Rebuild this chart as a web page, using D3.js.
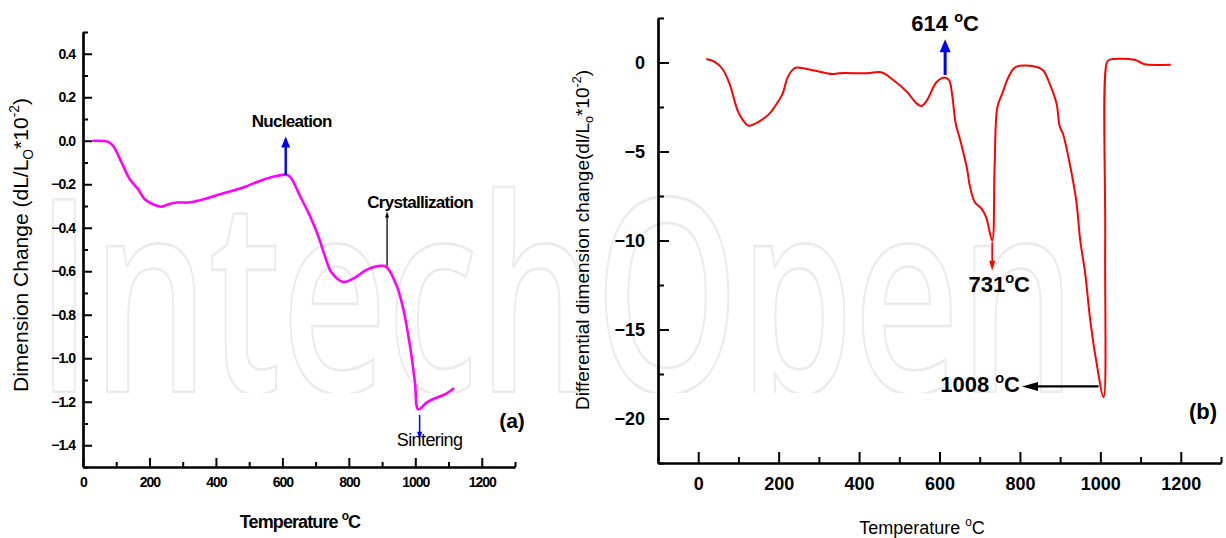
<!DOCTYPE html>
<html>
<head>
<meta charset="utf-8">
<script src="https://cdn.jsdelivr.net/npm/d3@7"></script>
<style>
  html, body { margin: 0; padding: 0; background: #fff; }
  svg { display: block; }
</style>
</head>
<body>
<svg id="chart" width="1226" height="538"></svg>
<script>
// (a) dilatometric curve: temperature (°C) vs dimension change (dL/Lo*10^-2)
const dilTemp   = [31, 76, 91, 116, 141, 166, 186, 211, 237, 257, 282, 317, 352, 412, 482, 532, 572, 610, 623, 653, 683, 708, 728, 748, 783, 813, 853, 893, 913, 944, 964, 984, 999, 1009, 1034, 1064, 1089, 1114];
const dilChange = [0.0, -0.005, -0.024, -0.10, -0.177, -0.223, -0.269, -0.292, -0.303, -0.292, -0.284, -0.284, -0.274, -0.246, -0.215, -0.185, -0.166, -0.156, -0.165, -0.254, -0.346, -0.438, -0.530, -0.606, -0.649, -0.634, -0.594, -0.575, -0.580, -0.667, -0.775, -0.943, -1.112, -1.235, -1.204, -1.181, -1.166, -1.140];

// (b) derivative curve: temperature (°C) vs differential dimension change
const difTemp   = [20, 40, 60, 78, 98, 110, 125, 140, 156, 176, 197, 210, 222, 235, 245, 288, 333, 350, 420, 455, 486, 519, 543, 555, 568, 593, 614, 624, 632, 640, 652, 668, 676, 688, 704, 716, 731, 737, 744, 756, 772, 790, 842, 858, 874, 891, 899, 907, 924, 940, 950, 962, 975, 990, 1008, 1012, 1016, 1022, 1085, 1100, 1110, 1175];
const difChange = [0.2, 0.05, -0.35, -1.2, -2.7, -3.2, -3.55, -3.45, -3.25, -2.9, -2.25, -1.75, -0.85, -0.4, -0.28, -0.45, -0.65, -0.6, -0.6, -0.55, -1.0, -1.65, -2.3, -2.45, -2.15, -1.1, -0.85, -1.0, -1.9, -3.4, -4.4, -5.9, -7.0, -7.85, -8.2, -8.7, -10.0, -5.9, -2.5, -1.75, -0.8, -0.25, -0.25, -0.45, -1.2, -2.3, -3.6, -4.0, -5.7, -7.75, -10.0, -11.8, -14.5, -16.8, -18.8, -10.0, 0.0, 0.15, 0.15, 0.0, -0.1, -0.12];

// tick values
const dilXTicks = [0, 200, 400, 600, 800, 1000, 1200];
const dilXMinor = [100, 300, 500, 700, 900, 1100, 1300];
const dilYTicks = [-1.4, -1.2, -1.0, -0.8, -0.6, -0.4, -0.2, 0.0, 0.2, 0.4];
const dilYMinor = [-1.5, -1.3, -1.1, -0.9, -0.7, -0.5, -0.3, -0.1, 0.1, 0.3, 0.5];
const difXTicks = [0, 200, 400, 600, 800, 1000, 1200];
const difXMinor = [-100, 100, 300, 500, 700, 900, 1100, 1300];
const difYTicks = [-20, -15, -10, -5, 0];
const difYMinor = [-22.5, -17.5, -12.5, -7.5, -2.5, 2.5];

// annotated temperatures
const peakLabels = { nucleation: 610, crystallization: 915, sintering: 1013 };
const difMarks = { peak: 614, first: 731, second: 1008 };

const FONT = "Liberation Sans, Arial, sans-serif";
const svg = d3.select("#chart");

// faint publisher mark behind the plots (hollow letters, cut at the baseline)
svg.append("defs").append("clipPath").attr("id", "markClip")
  .append("rect").attr("x", 0).attr("y", 0).attr("width", 1226).attr("height", 393);
svg.append("g").attr("clip-path", "url(#markClip)")
  .append("text")
  .attr("transform", "translate(36,392) scale(0.68,1)")
  .attr("font-family", "Open Sans")
  .attr("font-weight", 600)
  .attr("font-size", 270)
  .attr("fill", "none")
  .attr("stroke", "#ebebeb")
  .attr("stroke-width", 2.8)
  .text("IntechOpen");

// scales
const xA = d3.scaleLinear([0, 1300], [83, 515]);
const yA = d3.scaleLinear([-1.5, 0.5], [467, 32]);
const xB = d3.scaleLinear([-100, 1300], [658, 1221]);
const yB = d3.scaleLinear([-22.5, 2.5], [463, 18]);

function styleAxis(g, font) {
  g.select(".domain").attr("stroke", "#000").attr("stroke-width", 2.2);
  g.selectAll(".tick line").attr("stroke", "#000").attr("stroke-width", 2);
  g.selectAll(".tick text")
    .attr("fill", "#000")
    .attr("font-family", FONT)
    .attr("font-weight", "bold")
    .attr("font-size", font.size)
    .attr("letter-spacing", font.spacing);
}

function drawAxes(x, y, o) {
  const [x0] = x.range();
  const [y0] = y.range();
  // minor ticks
  const gxm = svg.append("g").attr("transform", `translate(0,${y0})`)
    .call(d3.axisBottom(x).tickValues(o.xMinor).tickFormat("").tickSize(-o.minor).tickSizeOuter(0));
  styleAxis(gxm, o.font);
  const gym = svg.append("g").attr("transform", `translate(${x0},0)`)
    .call(d3.axisLeft(y).tickValues(o.yMinor).tickFormat("").tickSize(-o.minor).tickSizeOuter(0));
  styleAxis(gym, o.font);
  // major ticks with labels
  const gx = svg.append("g").attr("transform", `translate(0,${y0})`)
    .call(d3.axisBottom(x).tickValues(o.xTicks).tickFormat(d3.format("d"))
      .tickSize(-o.major).tickSizeOuter(0).tickPadding(o.xPad));
  styleAxis(gx, o.font);
  const gy = svg.append("g").attr("transform", `translate(${x0},0)`)
    .call(d3.axisLeft(y).tickValues(o.yTicks).tickFormat(o.yFormat)
      .tickSize(-o.major).tickSizeOuter(0).tickPadding(o.yPad));
  styleAxis(gy, o.font);
}

// rich text with superscript / subscript pieces
function richText(parent, parts, attrs, size) {
  const t = parent.append("text");
  Object.entries(attrs).forEach(([k, v]) => t.attr(k, v));
  t.attr("font-size", size);
  let shift = 0;
  parts.forEach(p => {
    const target = p.s === "sup" ? -0.42 * size : p.s === "sub" ? 0.22 * size : 0;
    const s = t.append("tspan").text(p.t).attr("dy", target - shift);
    if (p.s) s.attr("font-size", size * 0.66);
    shift = target;
  });
  return t;
}

function arrowUp(x, yTail, yTip, color, w, hw, hl) {
  svg.append("line").attr("x1", x).attr("x2", x).attr("y1", yTail).attr("y2", yTip + hl * 0.6)
    .attr("stroke", color).attr("stroke-width", w);
  svg.append("path").attr("d", `M${x},${yTip} L${x - hw},${yTip + hl} L${x + hw},${yTip + hl} Z`).attr("fill", color);
}
function arrowDown(x, yTail, yTip, color, w, hw, hl) {
  svg.append("line").attr("x1", x).attr("x2", x).attr("y1", yTail).attr("y2", yTip - hl * 0.6)
    .attr("stroke", color).attr("stroke-width", w);
  svg.append("path").attr("d", `M${x},${yTip} L${x - hw},${yTip - hl} L${x + hw},${yTip - hl} Z`).attr("fill", color);
}
function arrowLeft(xTail, xTip, y, color, w, hw, hl) {
  svg.append("line").attr("x1", xTail).attr("x2", xTip + hl * 0.6).attr("y1", y).attr("y2", y)
    .attr("stroke", color).attr("stroke-width", w);
  svg.append("path").attr("d", `M${xTip},${y} L${xTip + hl},${y - hw} L${xTip + hl},${y + hw} Z`).attr("fill", color);
}

// ---------- panel (a) ----------
drawAxes(xA, yA, {
  xTicks: dilXTicks, xMinor: dilXMinor, yTicks: dilYTicks, yMinor: dilYMinor,
  major: 9, minor: 5, xPad: 10, yPad: 8,
  yFormat: d3.format(".1f"),
  font: { size: 14, spacing: -1 }
});

const dilData = dilTemp.map((t, i) => [t, dilChange[i]]);
svg.append("path").datum(dilData)
  .attr("fill", "none").attr("stroke", "#ff00ff").attr("stroke-width", 2.6)
  .attr("stroke-linejoin", "round").attr("stroke-linecap", "round")
  .attr("d", d3.line().x(d => xA(d[0])).y(d => yA(d[1])).curve(d3.curveCatmullRom.alpha(0.5)));

// annotations (a)
const nucX = xA(peakLabels.nucleation);
arrowUp(nucX, yA(-0.157), yA(0.02), "#0000ff", 2.4, 4.5, 11);
svg.append("text").attr("x", nucX + 6).attr("y", 127).attr("text-anchor", "middle")
  .attr("font-family", FONT).attr("font-weight", "bold")
  .attr("font-size", 17).attr("letter-spacing", -0.7).text("Nucleation");

const cryX = xA(peakLabels.crystallization);
arrowUp(cryX, yA(-0.575), yA(-0.325), "#000", 1.3, 2, 6);
svg.append("text").attr("x", cryX + 33).attr("y", 208).attr("text-anchor", "middle")
  .attr("font-family", FONT).attr("font-weight", "bold")
  .attr("font-size", 17).attr("letter-spacing", -0.7).text("Crystallization");

const sinX = xA(peakLabels.sintering);
arrowDown(sinX, yA(-1.26), yA(-1.375), "#0000ff", 1.5, 2.5, 8);
svg.append("text").attr("x", sinX + 10).attr("y", 446).attr("text-anchor", "middle")
  .attr("font-family", FONT)
  .attr("font-size", 18).attr("letter-spacing", -0.6).text("Sintering");

svg.append("text").attr("x", 512).attr("y", 428).attr("text-anchor", "middle")
  .attr("font-family", FONT).attr("font-weight", "bold")
  .attr("font-size", 21).text("(a)");

// axis titles (a)
richText(svg, [{ t: "Temperature " }, { t: "o", s: "sup" }, { t: "C" }],
  { x: 300, y: 528, "text-anchor": "middle", "font-family": FONT,
    "font-weight": "bold", "letter-spacing": -0.9 }, 18);
richText(svg, [{ t: "Dimension Change (dL/L" }, { t: "O", s: "sub" }, { t: "*10" }, { t: "-2", s: "sup" }, { t: ")" }],
  { transform: "translate(28,245) rotate(-90)", "text-anchor": "middle", "font-family": FONT }, 21);

// ---------- panel (b) ----------
drawAxes(xB, yB, {
  xTicks: difXTicks, xMinor: difXMinor, yTicks: difYTicks, yMinor: difYMinor,
  major: 11, minor: 6, xPad: 14, yPad: 13,
  yFormat: d3.format("d"),
  font: { size: 18, spacing: 0 }
});

const difData = difTemp.map((t, i) => [t, difChange[i]]);
svg.append("path").datum(difData)
  .attr("fill", "none").attr("stroke", "#ff0000").attr("stroke-width", 2)
  .attr("stroke-linejoin", "round")
  .attr("d", d3.line().x(d => xB(d[0])).y(d => yB(d[1])).curve(d3.curveCatmullRom.alpha(0.5)));

// annotations (b)
const pkX = xB(difMarks.peak);
arrowUp(pkX, yB(-0.7), yB(1.3), "#0000ff", 3, 5.5, 13);
richText(svg, [{ t: "614 " }, { t: "o", s: "sup" }, { t: "C" }],
  { x: pkX, y: 31, "text-anchor": "middle", "font-family": FONT, "font-weight": "bold" }, 22);

const m1X = xB(difMarks.first);
arrowDown(m1X, yB(-10.1), yB(-11.7), "#ff0000", 1.6, 3, 10);
richText(svg, [{ t: "731" }, { t: "o", s: "sup" }, { t: "C" }],
  { x: m1X + 7, y: 292, "text-anchor": "middle", "font-family": FONT, "font-weight": "bold" }, 22);

const m2X = xB(difMarks.second);
arrowLeft(m2X - 5, 1022, yB(-18.2), "#000", 2.2, 4.5, 16);
richText(svg, [{ t: "1008 " }, { t: "o", s: "sup" }, { t: "C" }],
  { x: 1020, y: 392, "text-anchor": "end", "font-family": FONT, "font-weight": "bold" }, 22);

svg.append("text").attr("x", 1203).attr("y", 419).attr("text-anchor", "middle")
  .attr("font-family", FONT).attr("font-weight", "bold")
  .attr("font-size", 22).text("(b)");

// axis titles (b)
richText(svg, [{ t: "Temperature " }, { t: "o", s: "sup" }, { t: "C" }],
  { x: 922, y: 534, "text-anchor": "middle", "font-family": FONT }, 18);
richText(svg, [{ t: "Differential dimension change(dl/L" }, { t: "o", s: "sub" }, { t: "*10" }, { t: "-2", s: "sup" }, { t: ")" }],
  { transform: "translate(589,240) rotate(-90)", "text-anchor": "middle", "font-family": FONT }, 19);
</script>
</body>
</html>
